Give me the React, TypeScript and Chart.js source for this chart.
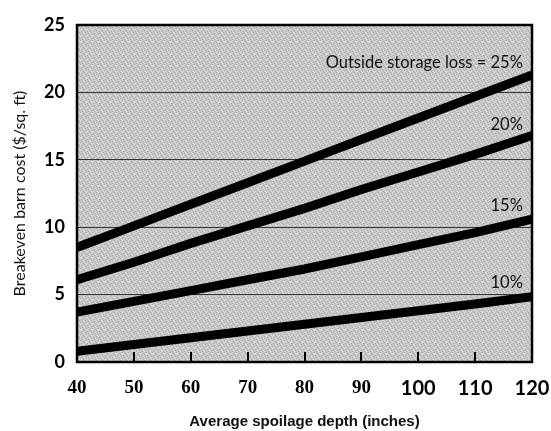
import React, { useEffect, useRef } from "react";
import { Chart, registerables } from "chart.js";

Chart.register(...registerables);

// Average spoilage depth (inches)
const depths = [40, 50, 60, 70, 80, 90, 100, 110, 120];
// Breakeven barn cost ($/sq. ft) for each outside storage loss
const loss25 = [8.5, 10.1, 11.7, 13.3, 14.9, 16.5, 18.1, 19.7, 21.3];
const loss20 = [6.1, 7.4, 8.8, 10.1, 11.4, 12.8, 14.1, 15.4, 16.8];
const loss15 = [3.7, 4.5, 5.3, 6.1, 6.9, 7.8, 8.7, 9.6, 10.6];
const loss10 = [0.8, 1.3, 1.8, 2.3, 2.8, 3.3, 3.8, 4.3, 4.85];

const lineLabels = ["Outside storage loss = 25%", "20%", "15%", "10%"];
const labelAnchorX = 118.4;
const labelAnchorY = [22.2, 17.6, 11.6, 5.9];

const innerTicks = [50, 60, 70, 80, 90, 100, 110];

function makePattern(ctx: CanvasRenderingContext2D) {
  const n = 6;
  const c = document.createElement("canvas");
  c.width = n;
  c.height = n;
  const p = c.getContext("2d")!;
  p.fillStyle = "#c7c7c7";
  p.fillRect(0, 0, n, n);
  const dark = [
    [0, 0], [3, 1], [1, 2], [4, 3], [2, 4], [5, 5],
  ];
  const light = [
    [2, 0], [5, 2], [0, 3], [3, 5], [1, 5],
  ];
  p.fillStyle = "#a9a9a9";
  dark.forEach(([x, y]) => p.fillRect(x, y, 1, 1));
  p.fillStyle = "#e2e2e2";
  light.forEach(([x, y]) => p.fillRect(x, y, 1, 1));
  return ctx.createPattern(c, "repeat");
}

const decorPlugin = {
  id: "decor",
  beforeDraw(chart: any) {
    const { ctx, chartArea } = chart;
    ctx.save();
    ctx.fillStyle = makePattern(ctx) || "#c0c0c0";
    ctx.fillRect(chartArea.left, chartArea.top, chartArea.right - chartArea.left, chartArea.bottom - chartArea.top);
    ctx.restore();
  },
  afterDatasetsDraw(chart: any) {
    const { ctx, chartArea, scales } = chart;
    const xs = scales.x;
    const ys = scales.y;
    ctx.save();
    ctx.strokeStyle = "#000";
    ctx.lineWidth = 2;
    innerTicks.forEach((v) => {
      const px = Math.round(xs.getPixelForValue(v));
      ctx.beginPath();
      ctx.moveTo(px, chartArea.bottom);
      ctx.lineTo(px, chartArea.bottom - 10);
      ctx.stroke();
    });
    ctx.lineWidth = 2.5;
    ctx.strokeRect(chartArea.left, chartArea.top, chartArea.right - chartArea.left, chartArea.bottom - chartArea.top);
    ctx.fillStyle = "#111";
    ctx.textAlign = "right";
    ctx.textBaseline = "middle";
    ctx.font = "16.5px Lato";
    lineLabels.forEach((t, i) => {
      ctx.fillText(t, xs.getPixelForValue(labelAnchorX), ys.getPixelForValue(labelAnchorY[i]));
    });
    ctx.restore();
  },
};

export default function App() {
  const ref = useRef<HTMLCanvasElement>(null);
  useEffect(() => {
    document.body.style.margin = "0";
    const mk = (vals: number[]) => depths.map((d, i) => ({ x: d, y: vals[i] }));
    const ds = (vals: number[]) => ({
      data: mk(vals),
      borderColor: "#000",
      borderWidth: 9,
      pointRadius: 0,
      tension: 0,
      clip: 0,
      borderCapStyle: "butt" as const,
    });
    const chart = new Chart(ref.current!, {
      type: "line",
      data: { datasets: [ds(loss25), ds(loss20), ds(loss15), ds(loss10)] },
      plugins: [decorPlugin],
      options: {
        animation: false,
        responsive: false,
        layout: { padding: { top: 25, right: 19, left: 0, bottom: 0 } },
        plugins: { legend: { display: false }, tooltip: { enabled: false } },
        scales: {
          x: {
            type: "linear",
            min: 40,
            max: 120,
            afterFit: (s: any) => {
              s.height = 69;
              s.paddingLeft = 0;
              s.paddingRight = 0;
            },
            grid: { display: false, drawTicks: false },
            border: { display: false },
            ticks: {
              stepSize: 10,
              padding: 15,
              color: "#000",
              font: (c: any) =>
                c.tick && c.tick.value >= 100
                  ? { family: "Lato", weight: "bold", size: 20 }
                  : { family: "Liberation Serif", weight: "bold", size: 19 },
            },
            title: {
              display: true,
              text: "Average spoilage depth (inches)",
              color: "#111",
              font: { family: "Liberation Sans", weight: "bold", size: 15 },
              padding: { top: 0, bottom: 0 },
            },
          },
          y: {
            min: 0,
            max: 25,
            afterFit: (s: any) => {
              s.width = 77;
              s.paddingTop = 0;
              s.paddingBottom = 0;
            },
            grid: {
              drawTicks: false,
              color: (c: any) => (c.tick && (c.tick.value === 0 || c.tick.value === 25) ? "rgba(0,0,0,0)" : "#333"),
              lineWidth: 1,
            },
            border: { display: false },
            ticks: {
              stepSize: 5,
              padding: 12,
              color: "#000",
              font: { family: "Lato", weight: "bold", size: 18 },
            },
            title: {
              display: true,
              text: "Breakeven barn cost ($/sq. ft)",
              color: "#111",
              font: { family: "Lato", size: 16 },
              padding: { top: 10, bottom: 0 },
            },
          },
        },
      },
    });
    return () => chart.destroy();
  }, []);
  return (
    <div style={{ width: 551, height: 431 }}>
      <canvas ref={ref} width={551} height={431} style={{ display: "block" }} />
    </div>
  );
}
